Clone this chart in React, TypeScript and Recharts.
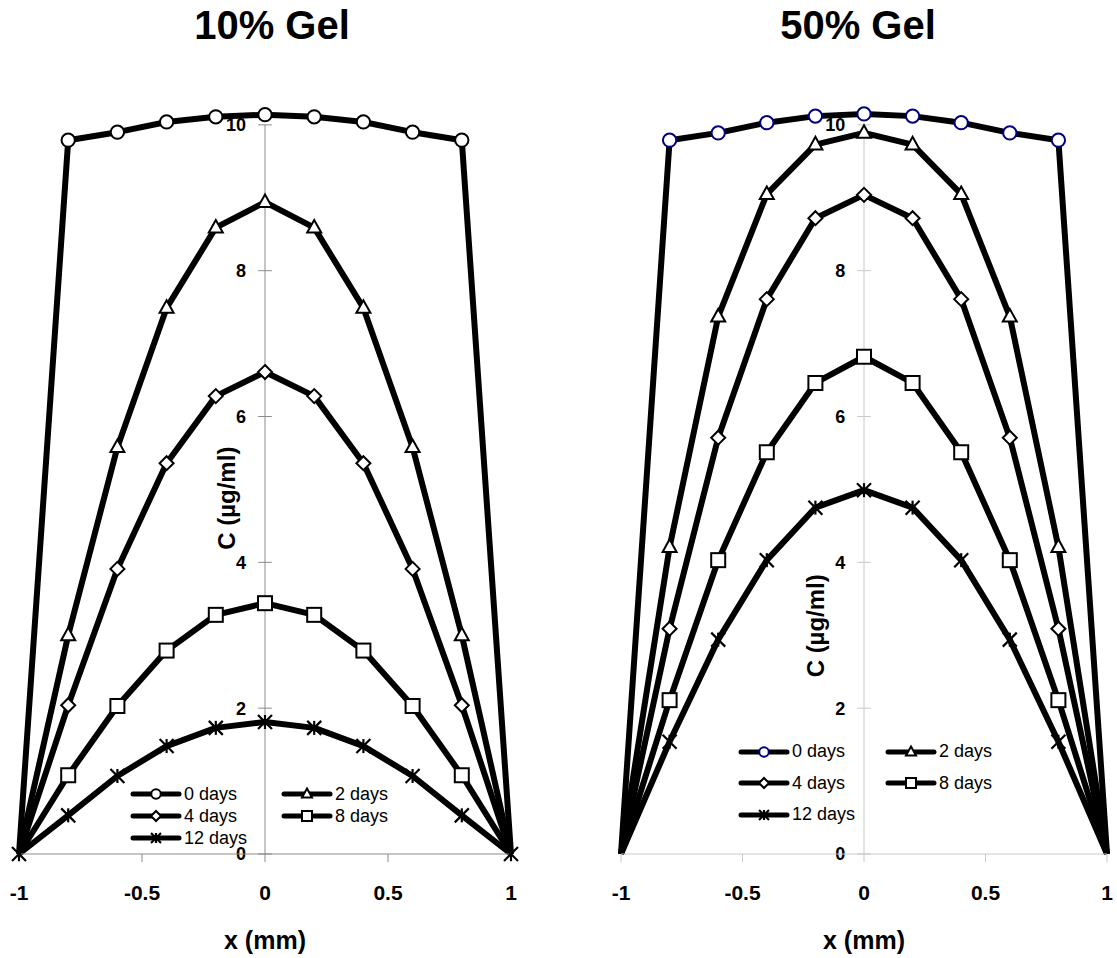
import React from "react";
import {
  LineChart, Line, XAxis, YAxis, ReferenceLine, ReferenceDot, Legend,
} from "recharts";

// positions across the gel slab (mm)
const xPositions = [-1, -0.8, -0.6, -0.4, -0.2, 0, 0.2, 0.4, 0.6, 0.8, 1];

// 10% gel concentration profiles (µg/ml)
const gel10Day0 = [0, 9.79, 9.9, 10.04, 10.11, 10.14, 10.11, 10.04, 9.9, 9.79, 0];
const gel10Day2 = [0, 3.0, 5.58, 7.49, 8.59, 8.94, 8.59, 7.49, 5.58, 3.0, 0];
const gel10Day4 = [0, 2.04, 3.91, 5.36, 6.28, 6.61, 6.28, 5.36, 3.91, 2.04, 0];
const gel10Day8 = [0, 1.08, 2.03, 2.79, 3.28, 3.44, 3.28, 2.79, 2.03, 1.08, 0];
const gel10Day12 = [0, 0.53, 1.07, 1.48, 1.73, 1.81, 1.73, 1.48, 1.07, 0.53, 0];

// 50% gel concentration profiles (µg/ml)
const gel50Day0 = [0, 9.79, 9.89, 10.03, 10.12, 10.15, 10.12, 10.03, 9.89, 9.79, 0];
const gel50Day2 = [0, 4.21, 7.37, 9.05, 9.73, 9.89, 9.73, 9.05, 7.37, 4.21, 0];
const gel50Day4 = [0, 3.09, 5.71, 7.61, 8.72, 9.04, 8.72, 7.61, 5.71, 3.09, 0];
const gel50Day8 = [0, 2.11, 4.03, 5.51, 6.46, 6.82, 6.46, 5.51, 4.03, 2.11, 0];
const gel50Day12 = [0, 1.54, 2.94, 4.03, 4.75, 4.99, 4.75, 4.03, 2.94, 1.54, 0];

const seriesKeys = ["d0", "d2", "d4", "d8", "d12"];
const seriesNames = ["0 days", "2 days", "4 days", "8 days", "12 days"];
const seriesShapes = ["circle", "triangle", "diamond", "square", "star"];
// legend reads row by row: 0 | 2, 4 | 8, 12
const legendOrder = [0, 1, 2, 3, 4];

const xTicks = [-1, -0.5, 0, 0.5, 1];
const yTicks = [0, 2, 4, 6, 8, 10];

const FONT = "'Liberation Sans', Arial, Helvetica, sans-serif";

type Shape = string;

function Marker({ shape, cx, cy, s, stroke }: { shape: Shape; cx: number; cy: number; s: number; stroke: string }) {
  const common = { fill: "#fff", stroke, strokeWidth: 2 };
  switch (shape) {
    case "circle":
      return <circle cx={cx} cy={cy} r={s * 0.95} {...common} />;
    case "triangle":
      return (
        <polygon
          points={`${cx},${cy - s * 1.1} ${cx + s},${cy + s * 0.7} ${cx - s},${cy + s * 0.7}`}
          {...common}
        />
      );
    case "diamond":
      return (
        <polygon
          points={`${cx},${cy - s} ${cx + s},${cy} ${cx},${cy + s} ${cx - s},${cy}`}
          {...common}
        />
      );
    case "square":
      return <rect x={cx - s} y={cy - s} width={s * 2} height={s * 2} {...common} />;
    default:
      return (
        <g stroke={stroke} strokeWidth={2.2} fill="none">
          <line x1={cx - s} y1={cy - s} x2={cx + s} y2={cy + s} />
          <line x1={cx - s} y1={cy + s} x2={cx + s} y2={cy - s} />
          <line x1={cx} y1={cy - s} x2={cx} y2={cy + s} />
        </g>
      );
  }
}

const makeDot = (shape: Shape, stroke: string, showEnds: boolean) => (props: any) => {
  const { cx, cy, payload, index } = props;
  if (cx == null || cy == null || (!showEnds && Math.abs(payload.x) === 1)) {
    return <g key={`dot-${index}`} />;
  }
  return (
    <g key={`dot-${index}`}>
      <Marker shape={shape} cx={cx} cy={cy} s={7} stroke={stroke} />
    </g>
  );
};

// bold label text helpers
const boldProps = { fill: "#000", fontFamily: FONT, fontWeight: "bold" as const };

const XTick = (props: any) => (
  <text x={props.x} y={props.y} dy="0.71em" textAnchor="middle" fontSize={21} {...boldProps}>
    {props.payload.value}
  </text>
);

const yTickLabel = (value: number) => (props: any) => {
  const vb = props.viewBox;
  return (
    <text x={vb.x - 12} y={vb.y + vb.height / 2} dy="0.36em" textAnchor="end" fontSize={18} {...boldProps}>
      {value}
    </text>
  );
};

const xTitle = (props: any) => {
  const vb = props.viewBox;
  return (
    <text x={vb.x + vb.width / 2} y={vb.y + vb.height - 9} textAnchor="middle" fontSize={25} {...boldProps}>
      x (mm)
    </text>
  );
};

const yTitle = (props: any) => {
  const vb = props.viewBox;
  const cx = vb.x + vb.width / 2;
  const cy = vb.y + vb.height / 2;
  return (
    <text
      x={cx}
      y={cy}
      dy="0.36em"
      textAnchor="middle"
      transform={`rotate(-90, ${cx}, ${cy})`}
      fontSize={24}
      {...boldProps}
    >
      C (µg/ml)
    </text>
  );
};

function LegendGrid({ colGap, rowHeight, circleStroke }: { colGap: number; rowHeight: number; circleStroke: string }) {
  return (
    <div
      style={{
        display: "grid",
        gridTemplateColumns: `${colGap}px auto`,
        gridAutoRows: `${rowHeight}px`,
        fontFamily: FONT,
        fontSize: 18,
        color: "#000",
      }}
    >
      {legendOrder.map((i) => (
        <div key={i} style={{ display: "flex", alignItems: "center" }}>
          <svg width={52} height={16}>
            <line x1={3} y1={8} x2={49} y2={8} stroke="#000" strokeWidth={5} strokeLinecap="round" />
            <Marker
              shape={seriesShapes[i]}
              cx={26}
              cy={8}
              s={5}
              stroke={i === 0 ? circleStroke : "#000"}
            />
          </svg>
          <span style={{ marginLeft: 2, whiteSpace: "nowrap" }}>{seriesNames[i]}</span>
        </div>
      ))}
    </div>
  );
}

type PanelProps = {
  series: number[][];
  width: number;
  margin: { top: number; right: number; bottom: number; left: number };
  axisColor: string;
  circleStroke: string;
  endMarkers: string;
  legend: { left: number; top: number; colGap: number; rowHeight: number };
  yLabel: { x: number; y: number };
};

function GelPanel({ series, width, margin, axisColor, circleStroke, endMarkers, legend, yLabel }: PanelProps) {
  const rows = xPositions.map((x, i) => {
    const row: Record<string, number> = { x };
    seriesKeys.forEach((k, s) => { row[k] = series[s][i]; });
    return row;
  });
  const tickHalf = 0.028;

  return (
    <LineChart width={width} height={958} data={rows} margin={margin}>
      <XAxis
        dataKey="x"
        type="number"
        domain={[-1, 1]}
        ticks={xTicks}
        interval={0}
        height={104}
        stroke={axisColor}
        tickSize={8}
        tickMargin={23}
        tick={XTick}
        label={xTitle}
      />
      <YAxis type="number" domain={[0, 10.3]} hide />
      {/* vertical axis sits at x = 0 */}
      <ReferenceLine segment={[{ x: 0, y: 0 }, { x: 0, y: 10 }]} stroke={axisColor} strokeWidth={1} />
      {yTicks.map((v) => (
        <ReferenceLine
          key={v}
          segment={[{ x: -tickHalf, y: v }, { x: tickHalf, y: v }]}
          stroke={axisColor}
          label={yTickLabel(v)}
        />
      ))}
      <ReferenceDot x={yLabel.x} y={yLabel.y} r={0} fill="none" stroke="none" label={yTitle} />
      {seriesKeys.map((k, s) => (
        <Line
          key={k}
          type="linear"
          dataKey={k}
          name={seriesNames[s]}
          stroke="#000"
          strokeWidth={6}
          strokeLinejoin="round"
          dot={makeDot(seriesShapes[s], s === 0 ? circleStroke : "#000", k === endMarkers)}
          activeDot={false}
          isAnimationActive={false}
        />
      ))}
      <Legend
        layout="vertical"
        align="center"
        verticalAlign="middle"
        wrapperStyle={{ left: legend.left, top: legend.top, width: 330 }}
        content={() => (
          <LegendGrid colGap={legend.colGap} rowHeight={legend.rowHeight} circleStroke={circleStroke} />
        )}
      />
    </LineChart>
  );
}

const titleStyle: React.CSSProperties = {
  position: "absolute",
  top: 5,
  width: 300,
  textAlign: "center",
  fontFamily: FONT,
  fontWeight: "bold",
  fontSize: 40,
  lineHeight: "40px",
  color: "#000",
};

export default function App() {
  return (
    <div style={{ position: "relative", width: 1117, height: 958, background: "#fff", overflow: "hidden" }}>
      <style>{"body{margin:0}"}</style>
      <div style={{ ...titleStyle, left: 272 - 150 }}>10% Gel</div>
      <div style={{ ...titleStyle, left: 858 - 150 }}>50% Gel</div>
      <div style={{ position: "absolute", left: 0, top: 0 }}>
        <GelPanel
          series={[gel10Day0, gel10Day2, gel10Day4, gel10Day8, gel10Day12]}
          width={558}
          margin={{ top: 103, right: 47, bottom: 0, left: 19 }}
          axisColor="#8c8c8c"
          circleStroke="#000"
          endMarkers="d12"
          legend={{ left: 130, top: 783, colGap: 151, rowHeight: 22 }}
          yLabel={{ x: -0.159, y: 4.88 }}
        />
      </div>
      <div style={{ position: "absolute", left: 558, top: 0 }}>
        <GelPanel
          series={[gel50Day0, gel50Day2, gel50Day4, gel50Day8, gel50Day12]}
          width={559}
          margin={{ top: 103, right: 10, bottom: 0, left: 63 }}
          axisColor="#c8c8c8"
          circleStroke="#000080"
          endMarkers=""
          legend={{ left: 180, top: 736, colGap: 147, rowHeight: 31.5 }}
          yLabel={{ x: -0.2, y: 3.13 }}
        />
      </div>
    </div>
  );
}
